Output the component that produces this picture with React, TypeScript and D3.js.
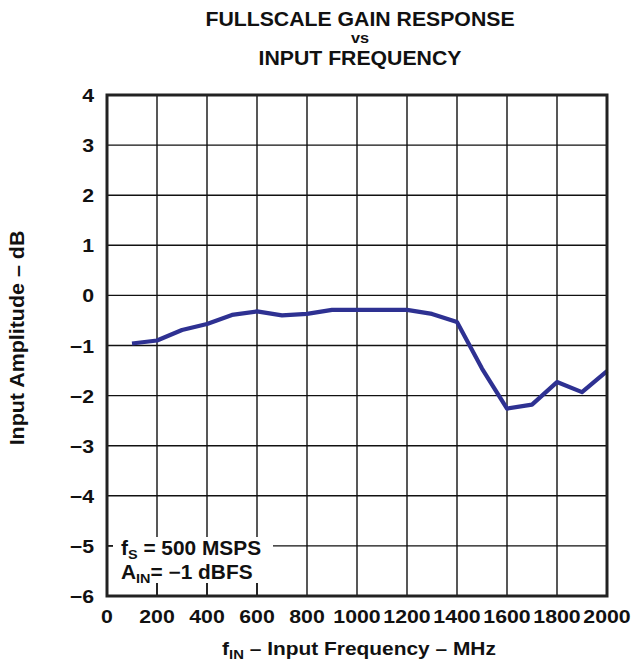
import React from "react";
import * as d3 from "d3";

const freqs = [100, 200, 300, 400, 500, 600, 700, 800, 900, 1000, 1100, 1200, 1300, 1400, 1500, 1600, 1700, 1800, 1900, 2000];
const gains = [-0.96, -0.9, -0.69, -0.57, -0.39, -0.32, -0.4, -0.37, -0.29, -0.29, -0.29, -0.29, -0.37, -0.53, -1.46, -2.26, -2.18, -1.73, -1.93, -1.51];
const xTicks = [0, 200, 400, 600, 800, 1000, 1200, 1400, 1600, 1800, 2000];
const yTicks = [4, 3, 2, 1, 0, -1, -2, -3, -4, -5, -6];
const titleLines = ["FULLSCALE GAIN RESPONSE", "vs", "INPUT FREQUENCY"];

const W = 631, H = 663;
const L = 107, R = 607, T = 95, B = 596;
const FONT = "Liberation Sans, Arial, Helvetica, sans-serif";

function ST(props: { x: number; y: number; sx?: number; rot?: number; size: number; anchor?: string; children: React.ReactNode }) {
  const { x, y, sx = 1.1, rot = 0, size, anchor = "start", children } = props;
  return (
    <g transform={`translate(${x},${y}) rotate(${rot}) scale(${sx},1)`}>
      <text x={0} y={0} textAnchor={anchor} fontWeight="bold" fontSize={size} fill="#111">{children}</text>
    </g>
  );
}

export default function App() {
  const x = d3.scaleLinear().domain([0, 2000]).range([L, R]);
  const y = d3.scaleLinear().domain([-6, 4]).range([B, T]);
  const line = d3.line<number>().x((_, i) => x(freqs[i])).y((d) => y(d));
  const fmt = (v: number) => (v < 0 ? "\u2212" + Math.abs(v) : String(v));
  const cx = 360;
  return (
    <svg width={W} height={H} style={{ position: "absolute", left: 0, top: 0, background: "#fff" }} fontFamily={FONT}>
      <rect x={0} y={0} width={W} height={H} fill="#fff" />
      {titleLines.map((t, i) => (
        <ST key={t} x={cx} y={[26, 43, 65][i]} size={i === 1 ? 15 : 19.5} sx={1.09} anchor="middle">{t}</ST>
      ))}
      {xTicks.slice(1, -1).map((t) => (
        <line key={"gx" + t} x1={x(t)} x2={x(t)} y1={T} y2={B} stroke="#111" strokeWidth={1.4} />
      ))}
      {yTicks.slice(1, -1).map((t) => (
        <line key={"gy" + t} x1={L} x2={R} y1={y(t)} y2={y(t)} stroke="#111" strokeWidth={1.4} />
      ))}
      <path d={line(gains) || ""} fill="none" stroke="#2e3192" strokeWidth={4.2} strokeLinejoin="round" />
      <rect x={113} y={537} width={160} height={46} fill="#fff" />
      {xTicks.slice(1, -1).filter((t) => x(t) < 273).map((t) => (
        <line key={"tk" + t} x1={x(t)} x2={x(t)} y1={583} y2={B} stroke="#111" strokeWidth={1.4} />
      ))}
      <line x1={L} x2={113} y1={y(-5)} y2={y(-5)} stroke="#111" strokeWidth={1.4} />
      <rect x={L} y={T} width={R - L} height={B - T} fill="none" stroke="#222" strokeWidth={3} />
      <ST x={121} y={555} size={19.5} sx={1.07}>
        f<tspan fontSize={13.5} dy={4}>S</tspan><tspan dy={-4}> = 500 MSPS</tspan>
      </ST>
      <ST x={121} y={579} size={19.5} sx={1.07}>
        A<tspan fontSize={13.5} dy={4}>IN</tspan><tspan dy={-4}>= {"\u22121"} dBFS</tspan>
      </ST>
      {yTicks.map((t) => (
        <ST key={"yl" + t} x={94} y={y(t) + 7} size={19} sx={1.12} anchor="end">{fmt(t)}</ST>
      ))}
      {xTicks.map((t) => (
        <ST key={"xl" + t} x={x(t)} y={623} size={19} sx={1.12} anchor="middle">{t}</ST>
      ))}
      <ST x={359} y={655} size={19} sx={1.1} anchor="middle">
        f<tspan fontSize={13.5} dy={4}>IN</tspan><tspan dy={-4}> {"\u2013"} Input Frequency {"\u2013"} MHz</tspan>
      </ST>
      <ST x={24} y={338} rot={-90} size={19.5} sx={1.1} anchor="middle">
        Input Amplitude {"\u2013"} dB
      </ST>
    </svg>
  );
}
